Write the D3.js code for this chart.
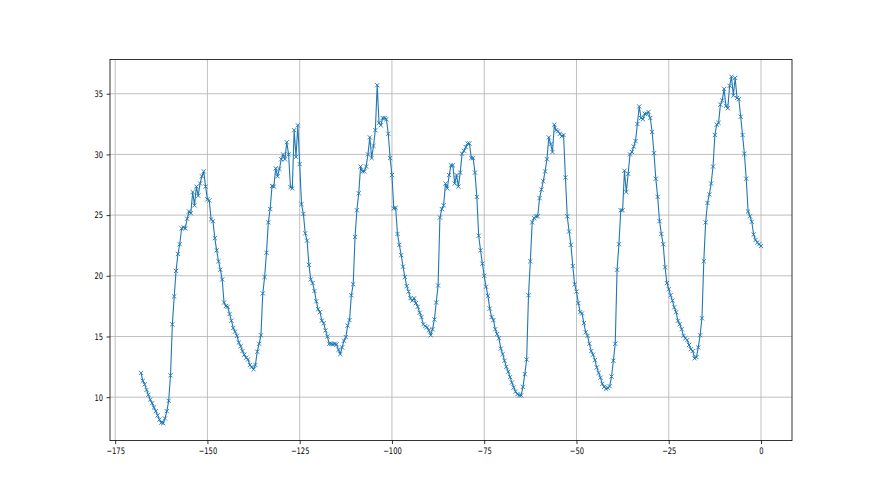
<!DOCTYPE html>
<html>
<head>
<meta charset="utf-8">
<script src="https://cdn.jsdelivr.net/npm/d3@7"></script>
<style>
  html, body { margin: 0; padding: 0; background: #fff; }
  svg { display: block; }
  .tick text { font-family: "DejaVu Sans", sans-serif; }
</style>
</head>
<body>
<svg id="chart" width="880" height="495"></svg>
<script>
// Time axis: half-hour samples from -168 h to 0 h
const tStart = -168;
const tStep = 0.5;

// Series values, one per half-hour sample
const cycle1 = [12.0, 11.35, 11.05, 10.6, 10.2, 9.8, 9.5, 9.15, 8.85, 8.5, 8.15, 7.9, 7.85, 8.25, 8.85, 9.7,
  11.8, 16.0, 18.3, 20.4, 21.8, 22.6, 23.9, 24.0, 23.9, 24.7, 25.3, 25.15, 26.9, 25.8, 27.35, 26.6,
  27.6, 28.2, 28.6, 27.35, 26.3, 26.2, 24.65, 24.5, 23.1, 22.1, 21.2, 20.5, 19.7, 17.8, 17.5, 17.45];
const cycle2 = [16.85, 16.3, 15.7, 15.4, 15.05, 14.5, 14.2, 13.8, 13.5, 13.25, 13.1, 12.65, 12.5, 12.3, 12.65, 13.75,
  14.4, 15.1, 18.55, 19.9, 21.9, 24.4, 25.5, 27.4, 27.35, 28.85, 28.2, 28.8, 29.6, 30.0, 29.6, 31.0,
  30.0, 27.3, 27.2, 32.0, 29.8, 32.4, 29.2, 25.9, 25.1, 23.5, 22.9, 20.9, 19.7, 19.4, 18.75, 17.9,
  17.25, 17.0, 16.3, 16.1, 15.5, 15.0];
const cycle3 = [14.4, 14.4, 14.35, 14.4, 14.35, 13.9, 13.55, 14.1, 14.65, 14.95, 15.9, 16.35, 18.4, 19.3, 23.2, 25.4,
  26.8, 29.0, 28.6, 28.6, 29.0, 30.0, 31.4, 29.7, 30.7, 32.0, 35.7, 32.6, 32.4, 33.0, 33.0, 32.9,
  31.7, 29.7, 28.3, 25.55, 25.6, 23.45, 22.55, 21.7, 20.75, 19.9, 19.15, 18.7, 18.15, 17.95, 18.15, 17.75,
  17.45, 16.95, 16.6, 16.0, 15.85, 15.75];
const cycle4 = [15.5, 15.1, 15.6, 16.4, 17.8, 19.2, 24.8, 25.5, 25.8, 27.6, 27.2, 28.3, 29.1, 29.1, 27.6, 28.3,
  27.35, 28.5, 30.05, 30.3, 30.6, 30.9, 30.9, 29.7, 29.7, 28.5, 26.5, 23.3, 22.1, 21.0, 20.0, 19.1,
  18.35, 17.3, 16.6, 16.35, 15.6, 15.2, 14.85, 14.0, 13.55, 13.0, 12.5, 12.1, 11.65, 11.2, 10.8, 10.45,
  10.25, 10.15, 10.15, 10.85, 11.9, 13.1, 18.4, 21.2];
const cycle5 = [24.4, 24.75, 24.9, 24.9, 26.4, 27.1, 27.8, 28.6, 29.6, 31.4, 30.85, 30.2, 32.45, 32.0, 31.9, 31.7,
  31.5, 31.6, 28.1, 24.9, 23.65, 22.55, 20.8, 19.3, 18.7, 17.75, 17.0, 16.9, 16.1, 15.35, 15.05, 14.4,
  13.8, 13.5, 13.05, 12.45, 12.0];
const cycle6 = [11.6, 11.1, 10.85, 10.7, 10.75, 10.9, 11.7, 13.0, 14.4, 20.5, 22.6, 25.4, 25.4, 28.65, 26.9, 28.4,
  30.0, 30.2, 30.65, 31.1, 32.5, 33.95, 33.0, 32.9, 33.35, 33.35, 33.5, 33.0, 31.85, 30.1, 28.0, 26.5,
  24.5, 23.45, 22.6, 20.7, 19.4, 18.9, 18.4, 17.95, 17.4, 17.0, 16.3, 16.0, 15.6, 15.05, 14.85, 14.7,
  14.3, 13.95, 13.8, 13.2, 13.3, 14.1, 15.1, 16.5];
const cycle7 = [21.2, 24.4, 26.0, 26.7, 27.6, 29.0, 31.6, 32.45, 32.6, 34.1, 34.45, 35.4, 34.0, 33.8, 35.65, 36.4,
  34.85, 36.3, 34.65, 34.55, 33.1, 31.6, 30.05, 28.0, 25.3, 24.9, 24.45, 23.4, 22.95, 22.75, 22.6, 22.45];

const values = [].concat(cycle1, cycle2, cycle3, cycle4, cycle5, cycle6, cycle7);

// Tick labels
const xTicks = [-175, -150, -125, -100, -75, -50, -25, 0];
const yTicks = [10, 15, 20, 25, 30, 35];

const data = values.map((v, i) => ({ t: tStart + i * tStep, v: v }));

const W = 880, H = 495;
const L = 110, R = 792, T = 59.4, B = 440.6;
const svg = d3.select("#chart");

const tExt = d3.extent(data, d => d.t);
const vExt = d3.extent(data, d => d.v);
const tPad = (tExt[1] - tExt[0]) * 0.05;
const vPad = (vExt[1] - vExt[0]) * 0.05;

const x = d3.scaleLinear().domain([tExt[0] - tPad, tExt[1] + tPad]).range([L, R]);
const y = d3.scaleLinear().domain([vExt[0] - vPad, vExt[1] + vPad]).range([B, T]);

// grid
const grid = svg.append("g");
grid.selectAll("line.gx").data(xTicks).enter().append("line")
  .attr("x1", d => x(d)).attr("x2", d => x(d)).attr("y1", T).attr("y2", B)
  .attr("stroke", "#b0b0b0").attr("stroke-width", 0.8);
grid.selectAll("line.gy").data(yTicks).enter().append("line")
  .attr("y1", d => y(d)).attr("y2", d => y(d)).attr("x1", L).attr("x2", R)
  .attr("stroke", "#b0b0b0").attr("stroke-width", 0.8);

// line
const clip = svg.append("clipPath").attr("id", "clip").append("rect")
  .attr("x", L).attr("y", T).attr("width", R - L).attr("height", B - T);
const plot = svg.append("g").attr("clip-path", "url(#clip)");
plot.append("path").datum(data)
  .attr("fill", "none").attr("stroke", "#1f77b4").attr("stroke-width", 1.1)
  .attr("stroke-linejoin", "round")
  .attr("d", d3.line().x(d => x(d.t)).y(d => y(d.v)));

// x markers
const ms = 2.1;
plot.append("g").selectAll("path").data(data).enter().append("path")
  .attr("transform", d => `translate(${x(d.t)},${y(d.v)})`)
  .attr("d", `M${-ms},${-ms}L${ms},${ms}M${-ms},${ms}L${ms},${-ms}`)
  .attr("stroke", "#1f77b4").attr("stroke-width", 0.9).attr("fill", "none");

// axes
const fmt = d3.format("d");
const xAxis = svg.append("g").attr("transform", `translate(0,${B})`)
  .call(d3.axisBottom(x).tickValues(xTicks).tickSize(3.5).tickPadding(3.5)
    .tickFormat(d => fmt(d).replace("-", "\u2212")));
const yAxis = svg.append("g").attr("transform", `translate(${L},0)`)
  .call(d3.axisLeft(y).tickValues(yTicks).tickSize(3.5).tickPadding(3.5).tickFormat(fmt));
[xAxis, yAxis].forEach(a => {
  a.select(".domain").remove();
  a.selectAll(".tick line").attr("stroke", "#000").attr("stroke-width", 0.8);
  a.selectAll(".tick text").attr("fill", "#000").style("font-size", "9px");
});
// horizontally condensed labels like the reference
xAxis.selectAll(".tick text").each(function() {
  const t = d3.select(this);
  t.attr("transform", "scale(0.75,1)");
});
yAxis.selectAll(".tick text").each(function() {
  const t = d3.select(this);
  const xx = +t.attr("x");
  t.attr("x", xx / 0.75).attr("transform", "scale(0.75,1)");
});

// spines
svg.append("rect").attr("x", L).attr("y", T).attr("width", R - L).attr("height", B - T)
  .attr("fill", "none").attr("stroke", "#000").attr("stroke-width", 0.8);
</script>
</body>
</html>
